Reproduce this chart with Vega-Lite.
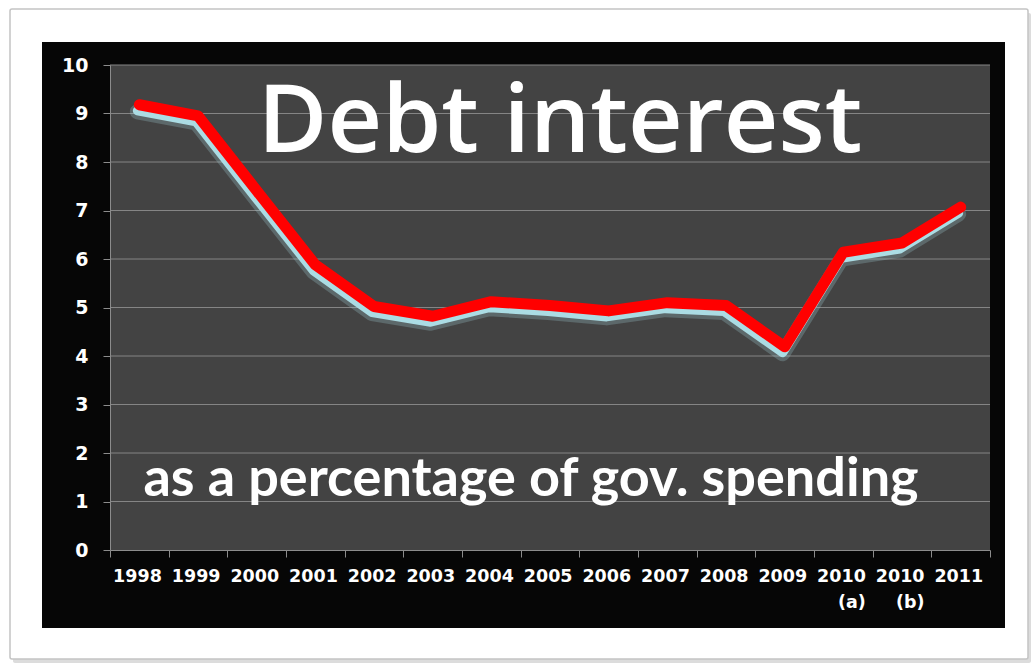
{
  "$schema": "https://vega.github.io/schema/vega-lite/v6.json",
  "width": 880,
  "height": 485,
  "autosize": {"type": "none"},
  "padding": {"left": 110, "top": 65, "right": 46, "bottom": 121},
  "background": "#ffffff",
  "data": {"values": [{}]},
  "config": {
    "view": {"stroke": null},
    "axis": {
      "zindex": 1,
      "labelColor": "#ffffff",
      "labelFont": "DejaVu Sans",
      "labelFontWeight": "bold",
      "domainColor": "#8c8c8c",
      "tickColor": "#8c8c8c",
      "tickSize": 7,
      "grid": false,
      "title": null
    }
  },
  "datasets": {
    "debt": [
      {"year": "1998", "pct": 9.18},
      {"year": "1999", "pct": 8.95},
      {"year": "2000", "pct": 7.41},
      {"year": "2001", "pct": 5.88},
      {"year": "2002", "pct": 5.02},
      {"year": "2003", "pct": 4.82},
      {"year": "2004", "pct": 5.12},
      {"year": "2005", "pct": 5.04},
      {"year": "2006", "pct": 4.93},
      {"year": "2007", "pct": 5.10},
      {"year": "2008", "pct": 5.04},
      {"year": "2009", "pct": 4.19},
      {"year": "2010 (a)", "pct": 6.14},
      {"year": "2010 (b)", "pct": 6.33},
      {"year": "2011", "pct": 7.07}
    ],
    "grid": [
      {"v": 1}, {"v": 2}, {"v": 3}, {"v": 4}, {"v": 5},
      {"v": 6}, {"v": 7}, {"v": 8}, {"v": 9}, {"v": 10}
    ]
  },
  "layer": [
    {
      "mark": {"type": "rect", "fill": "#dcdcdc", "xOffset": -97, "x2Offset": 41, "yOffset": 113, "y2Offset": -52, "cornerRadius": 2},
      "encoding": {
        "x": {"datum": "1998", "type": "nominal", "bandPosition": 0, "scale": {"type": "band", "paddingInner": 0, "paddingOuter": 0, "domain": ["1998", "1999", "2000", "2001", "2002", "2003", "2004", "2005", "2006", "2007", "2008", "2009", "2010 (a)", "2010 (b)", "2011"]}},
        "x2": {"datum": "2011", "bandPosition": 1},
        "y": {"datum": 0, "type": "quantitative", "title": null, "scale": {"domain": [0, 10], "nice": false}},
        "y2": {"datum": 10}
      }
    },
    {
      "mark": {"type": "rect", "fill": "#ffffff", "stroke": "#c4c4c4", "strokeWidth": 1.5, "xOffset": -100, "x2Offset": 38, "yOffset": 109, "y2Offset": -56, "cornerRadius": 2},
      "encoding": {
        "x": {"datum": "1998", "type": "nominal", "bandPosition": 0},
        "x2": {"datum": "2011", "bandPosition": 1},
        "y": {"datum": 0, "type": "quantitative", "title": null},
        "y2": {"datum": 10}
      }
    },
    {
      "mark": {"type": "rect", "fill": "#060606", "xOffset": -68, "x2Offset": 15, "yOffset": 78, "y2Offset": -23},
      "encoding": {
        "x": {"datum": "1998", "type": "nominal", "bandPosition": 0},
        "x2": {"datum": "2011", "bandPosition": 1},
        "y": {"datum": 0, "type": "quantitative", "title": null},
        "y2": {"datum": 10}
      }
    },
    {
      "mark": {"type": "rect", "fill": "#434343"},
      "encoding": {
        "x": {"datum": "1998", "type": "nominal", "bandPosition": 0},
        "x2": {"datum": "2011", "bandPosition": 1},
        "y": {"datum": 0, "type": "quantitative", "title": null},
        "y2": {"datum": 10}
      }
    },
    {
      "data": {"name": "grid"},
      "mark": {"type": "rule", "color": "#858585", "strokeWidth": 1},
      "encoding": {
        "y": {"field": "v", "type": "quantitative", "title": null}
      }
    },
    {
      "data": {"name": "debt"},
      "layer": [
        {
          "mark": {"type": "line", "color": "#a6d7df", "strokeWidth": 15, "opacity": 0.25, "strokeCap": "round", "strokeJoin": "round", "xOffset": -2, "yOffset": 7},
          "encoding": {
            "x": {"field": "year", "type": "nominal", "sort": null, "axis": {"zindex": 2, "labelAngle": 0, "labelFontSize": 17.5, "labelPadding": 19, "labelOffset": 22, "tickBand": "extent", "labelExpr": "split(datum.label, ' ')", "labelLineHeight": 26}},
            "y": {"field": "pct", "type": "quantitative", "axis": {"zindex": 2, "labelFontSize": 19, "labelPadding": 15, "tickCount": 10}}
          }
        },
        {
          "mark": {"type": "line", "color": "#abdce4", "strokeWidth": 9, "strokeCap": "round", "strokeJoin": "round", "xOffset": -2, "yOffset": 6},
          "encoding": {
            "x": {"field": "year", "type": "nominal", "sort": null},
            "y": {"field": "pct", "type": "quantitative"}
          }
        },
        {
          "mark": {"type": "line", "color": "#ff0000", "strokeWidth": 11, "strokeCap": "round", "strokeJoin": "round"},
          "encoding": {
            "x": {"field": "year", "type": "nominal", "sort": null},
            "y": {"field": "pct", "type": "quantitative"}
          }
        }
      ]
    },
    {
      "mark": {"type": "text", "text": "Debt interest", "font": "Open Sans", "fontWeight": 600, "fontSize": 95, "color": "#ffffff", "align": "center", "baseline": "alphabetic", "dx": 10},
      "encoding": {
        "x": {"datum": "2005", "type": "nominal"},
        "y": {"datum": 8.2, "type": "quantitative", "title": null}
      }
    },
    {
      "mark": {"type": "text", "text": "as a percentage of gov. spending", "font": "Lato", "fontWeight": "bold", "fontSize": 54, "color": "#ffffff", "align": "center", "baseline": "alphabetic", "dx": -19},
      "encoding": {
        "x": {"datum": "2005", "type": "nominal"},
        "y": {"datum": 1.11, "type": "quantitative", "title": null}
      }
    }
  ]
}
